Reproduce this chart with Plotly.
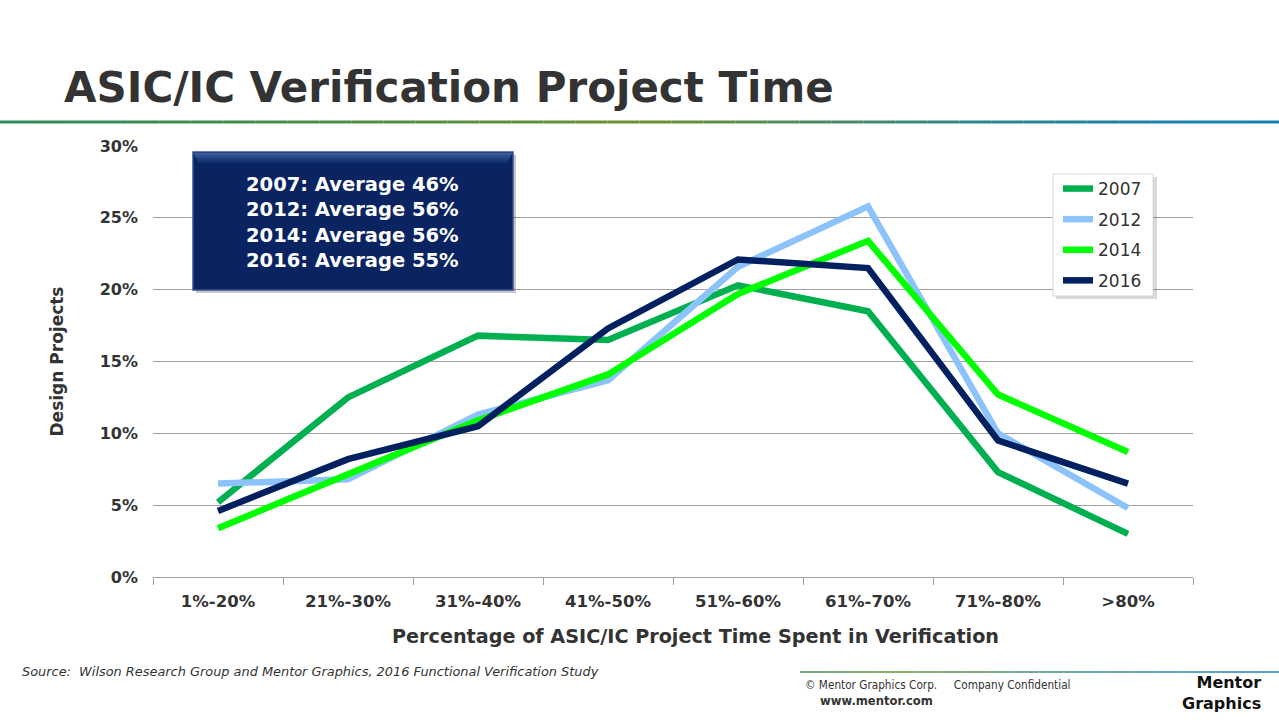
import plotly.graph_objects as go

# categories on the x axis
categories = ['1%-20%', '21%-30%', '31%-40%', '41%-50%', '51%-60%', '61%-70%', '71%-80%', '>80%']

# share of design projects per study year (fractions)
y2007 = [0.052, 0.125, 0.168, 0.165, 0.203, 0.185, 0.073, 0.030]
y2012 = [0.065, 0.068, 0.113, 0.137, 0.216, 0.258, 0.100, 0.048]
y2014 = [0.034, 0.071, 0.109, 0.141, 0.197, 0.234, 0.127, 0.087]
y2016 = [0.046, 0.082, 0.105, 0.173, 0.221, 0.215, 0.095, 0.065]

series = [
    ('2007', y2007, '#00B050'),
    ('2012', y2012, '#8DC3FB'),
    ('2014', y2014, '#00FF00'),
    ('2016', y2016, '#002060'),
]

averages = ['2007: Average 46%', '2012: Average 56%', '2014: Average 56%', '2016: Average 55%']
y_ticks = [0, 0.05, 0.10, 0.15, 0.20, 0.25, 0.30]

FONT = 'DejaVu Sans, sans-serif'
NARROW = 'DejaVu Sans Condensed, DejaVu Sans, sans-serif'
TXT = '#333333'

fig = go.Figure()

for name, vals, color in series:
    fig.add_trace(go.Scatter(x=categories, y=vals, mode='lines', name=name, legendgroup=name,
                             line=dict(color=color, width=6.5)))

W, H = 1279, 720
L, R, T, B = 153, 1193, 146, 577


# pixel -> paper coords (paper = plot area)
def px(x):
    return (x - L) / (R - L)


def py(y):
    return (B - y) / (B - T)


def blend(stops, t):
    # pick a colour along a list of (pos, hex) stops for the decorative rules
    for (p0, c0), (p1, c1) in zip(stops, stops[1:]):
        if p0 <= t <= p1:
            f = (t - p0) / (p1 - p0) if p1 > p0 else 0
            a = [int(c0[i:i + 2], 16) for i in (1, 3, 5)]
            b = [int(c1[i:i + 2], 16) for i in (1, 3, 5)]
            return '#%02x%02x%02x' % tuple(round(u + (v - u) * f) for u, v in zip(a, b))
    return stops[-1][1]


def gradient_rule(x_start, x_end, y, stops, width, pieces=40):
    out = []
    for i in range(pieces):
        x0 = x_start + (x_end - x_start) * i / pieces
        x1 = x_start + (x_end - x_start) * (i + 1) / pieces
        out.append(dict(type='line', xref='paper', yref='paper',
                        x0=px(x0), x1=px(x1), y0=py(y), y1=py(y),
                        line=dict(color=blend(stops, (i + 0.5) / pieces), width=width),
                        layer='above'))
    return out


shapes = []

# header rule: green -> olive -> teal -> blue
header_stops = [(0, '#2E8B5A'), (0.25, '#4A8D48'), (0.5, '#6B9032'), (0.63, '#4F8A60'),
                (0.78, '#2A8590'), (0.9, '#1C81AA'), (1, '#1880B2')]
shapes += gradient_rule(0, W, 122, header_stops, 3)

# footer rule
footer_stops = [(0, '#3A8A5A'), (0.2, '#6A9034'), (0.6, '#3A8A8A'), (1, '#1A84C4')]
shapes += gradient_rule(800, W, 672, footer_stops, 1.5, pieces=20)

# averages box (shadow + box + bevel)
shapes.append(dict(type='rect', xref='paper', yref='paper',
                   x0=px(196), x1=px(516), y0=py(155), y1=py(293),
                   fillcolor='rgba(0,0,0,0.22)', line=dict(width=0), layer='above'))
shapes.append(dict(type='rect', xref='paper', yref='paper',
                   x0=px(193), x1=px(513), y0=py(152), y1=py(290),
                   fillcolor='#0A2462', line=dict(color='#34538F', width=1.5), layer='above'))
bevel = ['#3A5A9A', '#2E4E8E', '#234383', '#1A3978', '#132F6D']
for i, c in enumerate(bevel):
    shapes.append(dict(type='rect', xref='paper', yref='paper',
                       x0=px(194 + i), x1=px(512 - i), y0=py(153 + 2 * i), y1=py(155 + 2 * i),
                       fillcolor=c, line=dict(width=0), layer='above'))

# legend box with shadow
shapes.append(dict(type='rect', xref='paper', yref='paper',
                   x0=px(1056), x1=px(1157), y0=py(177), y1=py(299),
                   fillcolor='rgba(0,0,0,0.15)', line=dict(width=0), layer='above'))
shapes.append(dict(type='rect', xref='paper', yref='paper',
                   x0=px(1053), x1=px(1153), y0=py(174), y1=py(296),
                   fillcolor='white', line=dict(color='#D8D8D8', width=1), layer='above'))


def note(text, x, y, size, family=FONT, color=TXT, xanchor='left', align='left'):
    return dict(text=text, x=px(x), y=py(y), xref='paper', yref='paper', showarrow=False,
                xanchor=xanchor, yanchor='middle', align=align,
                font=dict(family=family, size=size, color=color))


annotations = [
    note('<b>ASIC/IC Verification Project Time</b>', 62, 87, 42),
    note('<b>' + '<br>'.join(averages) + '</b>', 352, 222, 19.5, color='white',
         xanchor='center'),
    note('<b>Percentage of ASIC/IC Project Time Spent in Verification</b>', 695, 636, 19.2,
         xanchor='center'),
    note('<i>Source:  Wilson Research Group and Mentor Graphics, 2016 Functional Verification Study</i>',
         20, 671, 12.9),
    note('© Mentor Graphics Corp.     Company Confidential', 803, 685, 11.7, family=NARROW),
    note('<b>www.mentor.com</b>', 818, 701, 11.6),
    note('<b>Mentor<br>Graphics</b>', 1263, 693, 16, family='DejaVu Sans', color='#111111',
         xanchor='right', align='right'),
]

fig.update_layout(
    width=W, height=H,
    margin=dict(l=L, r=W - R, t=T, b=H - B),
    paper_bgcolor='white', plot_bgcolor='white',
    font=dict(family=FONT, color=TXT),
    shapes=shapes,
    annotations=annotations,
    legend=dict(x=px(1058), y=py(171), xanchor='left', yanchor='top',
                bgcolor='rgba(0,0,0,0)', borderwidth=0,
                font=dict(family=FONT, size=17, color=TXT), tracegroupgap=5.5,
                itemwidth=30),
    xaxis=dict(
        type='category', showgrid=False, showline=True, linecolor='#A0A0A0', linewidth=1,
        ticks='outside', tickson='boundaries', ticklen=7, tickcolor='#A0A0A0',
        tickfont=dict(family=FONT, size=16.5, color=TXT), ticklabelstandoff=9,
        tickvals=categories, ticktext=['<b>%s</b>' % c for c in categories],
        range=[-0.5, 7.5],
    ),
    yaxis=dict(
        range=[0, 0.30], showgrid=True, gridcolor='#A0A0A0', gridwidth=1,
        zeroline=False, showline=False, ticks='', ticklabelstandoff=14,
        tickvals=y_ticks, ticktext=['<b>%d%%</b>' % round(v * 100) for v in y_ticks],
        tickfont=dict(family=FONT, size=16, color=TXT),
        title=dict(text='<b>Design Projects</b>', font=dict(family=FONT, size=17, color=TXT),
                   standoff=31),
    ),
)

fig.write_html('out.html', config={'displayModeBar': False},
               post_script="document.body.style.margin='0';")
